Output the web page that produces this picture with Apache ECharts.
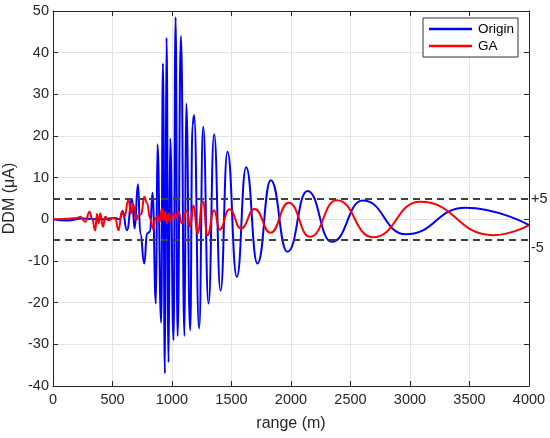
<!DOCTYPE html>
<html>
<head>
<meta charset="utf-8">
<script src="https://cdn.jsdelivr.net/npm/echarts@6/dist/echarts.min.js"></script>
<style>
  html, body { margin: 0; padding: 0; background: #fff; }
  #chart { width: 550px; height: 438px; }
</style>
</head>
<body>
<div id="chart"></div>
<script>
    // extrema of each trace
    var originX = [0, 120, 250, 400, 520, 560, 585, 621, 664, 686, 714, 734, 767, 790, 815, 836, 865, 878, 909, 924, 940, 954, 971, 985, 1013, 1030, 1047, 1075, 1105, 1119, 1153, 1172, 1186, 1228, 1262, 1307, 1354, 1408, 1466, 1545, 1623, 1718, 1830, 1970, 2138, 2343, 2603, 2964, 3468, 4000];
    var originY = [0, -0.3, 0.2, 0, 0.3, 0, 2, -2.6, 4.9, -2.2, 8.4, -3.4, -10.6, -3.4, -3, 6.4, -20.2, 18, -24.8, 37.4, -37, 43.6, -34.3, 19.4, -29, 48.5, -28, 44, -28, 27.8, -26.7, 22.6, 25, -26.2, 22.2, -20.2, 20.4, -17.1, 16.2, -13.8, 12.5, -10.6, 9.4, -7.8, 6.8, -5.4, 4.5, -3.6, 2.8, -1.4];

    var gaX = [0, 100, 200, 229, 271, 307, 330, 355, 369, 383, 397, 420, 439, 467, 500, 523, 551, 579, 599, 635, 655, 672, 699, 719, 741, 767, 789, 817, 842, 859, 879, 896, 915, 929, 943, 957, 971, 985, 1007, 1027, 1055, 1083, 1125, 1153, 1181, 1214, 1259, 1298, 1354, 1400, 1483, 1580, 1695, 1828, 1980, 2160, 2384, 2687, 3084, 3699, 4000];
    var gaY = [0, 0.1, 0.3, 0.6, -0.6, 1.8, 0, -2.7, 1.3, -1, 1.4, -1.8, 0.6, -0.3, 0.3, 0.2, -2.6, 1.8, 0.6, 4.7, 1.4, 3.8, -0.2, 1, 1.2, 5.4, 4, 0.2, -2.4, 0.3, 0.6, -0.6, 2.6, -0.2, 1.8, -1, 1.4, -0.6, 1.4, 0.2, 1.8, -1, 2.1, -1.8, 3.4, -3.4, 4.3, -3.8, 2.2, -2.5, 2.4, -2.2, 2.5, -3.2, 4.0, -4.2, 4.6, -4.3, 4.2, -3.8, -1.4];

    var limitLines = [5, -5];
    var limitLabels = ['+5', '-5'];

    var axisColor = '#262626';
    var font = 'Liberation Sans, Arial, sans-serif';

    function pairs(xs, ys) {
        return xs.map(function (x, i) { return [x, ys[i]]; });
    }
    function plain(v) { return String(v); }

    var myChart = echarts.init(document.getElementById('chart'));

    var boxAxis = {
        axisLine: { show: true, onZero: false, lineStyle: { color: axisColor, width: 1 } },
        axisTick: { show: true, inside: true, length: 5, lineStyle: { color: axisColor } },
        axisLabel: { show: false },
        splitLine: { show: false }
    };

    option = {
        animation: false,
        backgroundColor: '#fff',
        grid: { left: 53, right: 21, top: 11, bottom: 52, containLabel: false, outerBoundsMode: 'none' },
        legend: {
            data: ['Origin', 'GA'],
            orient: 'vertical',
            left: 423,
            top: 18,
            padding: [4, 4, 4, 6],
            itemGap: 3,
            itemWidth: 43,
            itemHeight: 2.5,
            icon: 'rect',
            backgroundColor: '#fff',
            borderColor: '#333',
            borderWidth: 1,
            borderRadius: 0,
            textStyle: { fontFamily: font, fontSize: 13.5, color: '#000', lineHeight: 14, padding: [0, 0, 0, 1] }
        },
        xAxis: [
            {
                type: 'value',
                min: 0, max: 4000, interval: 500,
                name: 'range (m)',
                nameLocation: 'middle',
                nameGap: 30,
                nameTextStyle: { fontFamily: font, fontSize: 16, color: axisColor },
                axisLine: { show: true, onZero: false, lineStyle: { color: axisColor, width: 1 } },
                axisTick: { show: true, inside: true, length: 5, lineStyle: { color: axisColor } },
                axisLabel: { fontFamily: font, fontSize: 14.5, color: axisColor, margin: 6, formatter: plain },
                splitLine: { show: true, lineStyle: { color: '#e3e3e3', width: 1 } }
            },
            Object.assign({ type: 'value', position: 'top', min: 0, max: 4000, interval: 500 }, boxAxis)
        ],
        yAxis: [
            {
                type: 'value',
                min: -40, max: 50, interval: 10,
                name: 'DDM (\u03bcA)',
                nameLocation: 'middle',
                nameGap: 30,
                nameRotate: 90,
                nameTextStyle: { fontFamily: font, fontSize: 16, color: axisColor },
                axisLine: { show: true, onZero: false, lineStyle: { color: axisColor, width: 1 } },
                axisTick: { show: true, inside: true, length: 5, lineStyle: { color: axisColor } },
                axisLabel: { fontFamily: font, fontSize: 14.5, color: axisColor, margin: 4, formatter: plain },
                splitLine: { show: true, lineStyle: { color: '#e3e3e3', width: 1 } }
            },
            Object.assign({ type: 'value', position: 'right', min: -40, max: 50, interval: 10 }, boxAxis)
        ],
        series: [
            {
                name: 'limits',
                type: 'line',
                data: [],
                silent: true,
                markLine: {
                    silent: true,
                    symbol: ['none', 'none'],
                    lineStyle: { color: '#404040', type: [7, 5], width: 1.8 },
                    label: {
                        position: 'end',
                        distance: 2,
                        fontFamily: font,
                        fontSize: 14.5,
                        color: axisColor
                    },
                    data: limitLines.map(function (v, i) {
                        return {
                            yAxis: v,
                            label: { formatter: limitLabels[i], offset: [0, v < 0 ? 8 : 0] }
                        };
                    })
                }
            },
            {
                name: 'Origin',
                type: 'line',
                data: pairs(originX, originY),
                showSymbol: false,
                symbol: 'none',
                smooth: 0.5,
                smoothMonotone: 'x',
                lineStyle: { color: '#0000ff', width: 2 },
                itemStyle: { color: '#0000ff' },
                z: 3
            },
            {
                name: 'GA',
                type: 'line',
                data: pairs(gaX, gaY),
                showSymbol: false,
                symbol: 'none',
                smooth: 0.5,
                smoothMonotone: 'x',
                lineStyle: { color: '#ff0000', width: 2 },
                itemStyle: { color: '#ff0000' },
                z: 4
            }
        ]
    };
    myChart.setOption(option);
</script>
</body>
</html>
